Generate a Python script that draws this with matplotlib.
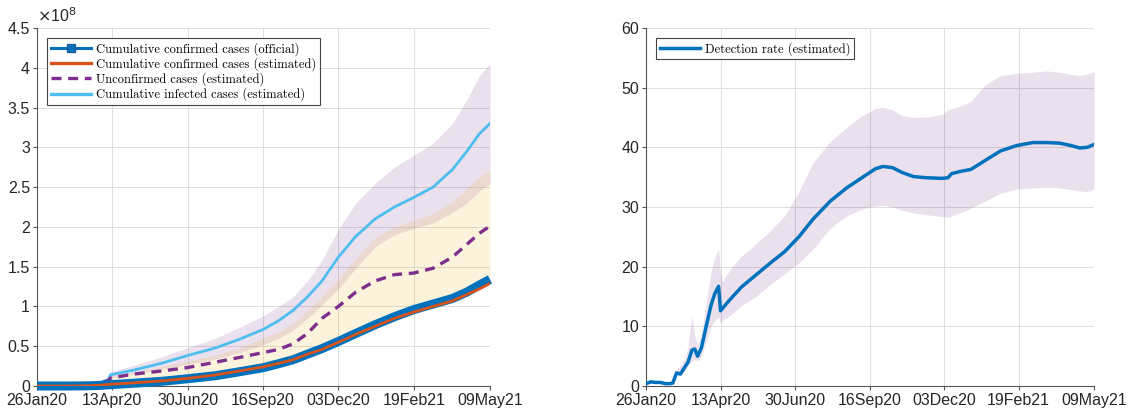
import numpy as np
import matplotlib
matplotlib.use("Agg")
import matplotlib.pyplot as plt
import matplotlib.dates as mdates
from matplotlib.ticker import FuncFormatter, MultipleLocator

# ---------------- data (left panel, values in units of 1e8) ----------------
start = np.datetime64("2020-01-26")
left_days = [0, 30, 50, 65, 74, 76, 100, 130, 155, 185, 210, 234, 250, 265, 280,
             295, 312, 330, 350, 370, 390, 410, 430, 445, 458, 469]
confirmed_official = [0.0, 0.0, 0.002, 0.008, 0.015, 0.017, 0.035, 0.06, 0.09, 0.13,
                      0.18, 0.23, 0.28, 0.33, 0.40, 0.47, 0.56, 0.66, 0.77, 0.87,
                      0.96, 1.03, 1.10, 1.18, 1.27, 1.34]
confirmed_est = [0.0, 0.0, 0.002, 0.01, 0.02, 0.022, 0.04, 0.065, 0.095, 0.14,
                 0.19, 0.24, 0.285, 0.33, 0.40, 0.46, 0.55, 0.65, 0.75, 0.85,
                 0.93, 1.0, 1.07, 1.15, 1.22, 1.29]
unconfirmed_est = [0.0, 0.0, 0.005, 0.03, 0.07, 0.10, 0.15, 0.19, 0.23, 0.30,
                   0.36, 0.42, 0.46, 0.53, 0.66, 0.85, 1.0, 1.18, 1.32, 1.40,
                   1.42, 1.48, 1.62, 1.78, 1.92, 2.01]
unconf_low = [0.0, 0.0, 0.003, 0.012, 0.02, 0.025, 0.045, 0.075, 0.11, 0.16,
              0.21, 0.27, 0.31, 0.37, 0.44, 0.51, 0.60, 0.71, 0.82, 0.92,
              1.0, 1.07, 1.14, 1.22, 1.31, 1.38]
unconf_high = [0.0, 0.0, 0.008, 0.04, 0.09, 0.13, 0.18, 0.25, 0.31, 0.39,
               0.48, 0.60, 0.68, 0.78, 0.95, 1.12, 1.35, 1.60, 1.87, 2.0,
               2.08, 2.16, 2.32, 2.48, 2.63, 2.72]
infected_est = [0.0, 0.0, 0.01, 0.04, 0.08, 0.14, 0.20, 0.29, 0.38, 0.48,
                0.59, 0.71, 0.82, 0.95, 1.12, 1.32, 1.62, 1.88, 2.10, 2.25,
                2.37, 2.50, 2.72, 2.95, 3.17, 3.30]
infected_low = [0.0, 0.0, 0.005, 0.025, 0.06, 0.10, 0.15, 0.21, 0.27, 0.34,
                0.42, 0.52, 0.60, 0.70, 0.85, 1.02, 1.22, 1.48, 1.75, 1.90,
                1.98, 2.05, 2.18, 2.30, 2.45, 2.55]
infected_high = [0.0, 0.0, 0.015, 0.06, 0.12, 0.18, 0.26, 0.37, 0.48, 0.60,
                 0.74, 0.88, 1.0, 1.12, 1.32, 1.58, 1.97, 2.30, 2.55, 2.75,
                 2.90, 3.05, 3.30, 3.60, 3.90, 4.05]

# ---------------- data (right panel, %) ----------------
right_days = [0, 5, 10, 15, 20, 25, 28, 32, 36, 40, 44, 48, 51, 54, 58, 63, 68, 72,
              76, 78, 80, 88, 100, 115, 130, 145, 160, 175, 193, 210, 225, 240, 248,
              258, 268, 280, 294, 310, 316, 320, 330, 340, 355, 371, 388, 405, 420,
              433, 445, 454, 462, 469]
detection = [0.4, 0.7, 0.6, 0.6, 0.4, 0.4, 0.5, 2.2, 2.0, 3.0, 4.0, 6.0, 6.2, 5.0,
             6.4, 10.0, 13.5, 15.5, 16.7, 12.6, 13.0, 14.5, 16.6, 18.6, 20.6, 22.5,
             25.0, 28.0, 31.0, 33.2, 34.8, 36.4, 36.8, 36.6, 35.8, 35.1, 34.9, 34.8,
             34.9, 35.6, 36.0, 36.3, 37.8, 39.4, 40.3, 40.8, 40.8, 40.7, 40.3, 39.9,
             40.0, 40.5]
detection_high = [0.4, 0.7, 0.6, 0.6, 0.4, 0.4, 0.5, 2.8, 3.5, 4.5, 6.5, 12.0, 8.5,
                  7.0, 8.5, 14.0, 19.0, 21.5, 23.0, 19.0, 17.5, 19.5, 21.8, 23.8,
                  26.0, 28.5, 32.5, 37.5, 41.0, 43.3, 45.2, 46.5, 46.7, 46.3, 45.3,
                  45.0, 45.1, 45.5, 46.3, 46.5, 47.0, 47.7, 50.5, 52.0, 52.4, 52.6,
                  52.8, 52.6, 52.2, 52.0, 52.3, 52.7]
detection_low = [0.4, 0.7, 0.6, 0.6, 0.4, 0.4, 0.5, 1.8, 1.8, 2.5, 3.5, 4.2, 4.5,
                 4.2, 5.0, 7.5, 10.0, 11.0, 11.5, 10.5, 11.0, 11.8, 13.5, 15.0, 17.0,
                 18.8, 20.6, 23.0, 26.5, 28.5, 29.6, 30.2, 30.3, 30.0, 29.5, 29.0,
                 28.7, 28.4, 28.3, 28.5, 29.1, 29.8, 31.0, 32.3, 33.0, 33.2, 33.3,
                 33.2, 32.9, 32.7, 32.6, 33.0]

tick_dates = ["2020-01-26", "2020-04-13", "2020-06-30", "2020-09-16",
              "2020-12-03", "2021-02-19", "2021-05-09"]
legend_left = ["Cumulative confirmed cases (official)",
               "Cumulative confirmed cases (estimated)",
               "Unconfirmed cases (estimated)",
               "Cumulative infected cases (estimated)"]
legend_right = ["Detection rate (estimated)"]

# ---------------- styling ----------------
BLUE = "#0072BD"
ORANGE = "#D95319"
PURPLE = "#7E2F8E"
CYAN = "#4DBEEE"
YELLOW = "#EDB120"
AX_COL = "#262626"

plt.rcParams["font.family"] = ["Liberation Sans", "DejaVu Sans"]

fig = plt.figure(figsize=(11.28, 4.09), dpi=100)
axL = fig.add_axes([0.0328, 0.0562, 0.4016, 0.8753])
axR = fig.add_axes([0.5727, 0.0562, 0.3972, 0.8753])

xl = start + np.array(left_days).astype("timedelta64[D]")
xr = start + np.array(right_days).astype("timedelta64[D]")
ticks = [np.datetime64(t) for t in tick_dates]


def style_axis(ax):
    ax.set_xlim(np.datetime64("2020-01-26"), np.datetime64("2021-05-09"))
    ax.set_xticks(ticks)
    ax.xaxis.set_major_formatter(mdates.DateFormatter("%d%b%y"))
    ax.grid(True, color="#dddddd", linewidth=0.7)
    ax.set_axisbelow(True)
    for s in ["top", "right"]:
        ax.spines[s].set_visible(False)
    for s in ["left", "bottom"]:
        ax.spines[s].set_color("#555555")
        ax.spines[s].set_linewidth(0.8)
    ax.tick_params(direction="out", length=3, width=0.8, colors="#555555",
                   labelcolor=AX_COL, labelsize=11.5, pad=2)


LEG_FONT = {"family": "cmr10", "size": 9}

# ---- left panel ----
axL.fill_between(xl, infected_low, infected_high, color=PURPLE, alpha=0.15,
                 linewidth=0)
axL.fill_between(xl, unconf_low, unconf_high, color=YELLOW, alpha=0.15,
                 linewidth=0)
axL.plot(xl, infected_est, color=CYAN, lw=2.0, zorder=3)
axL.plot(xl, unconfirmed_est, color=PURPLE, lw=2.4, linestyle=(0, (3, 2)),
         zorder=3)
axL.plot(xl, confirmed_official, color=BLUE, lw=6.5, solid_capstyle="butt",
         zorder=4, clip_on=False)
axL.plot(xl, confirmed_est, color=ORANGE, lw=2.0, zorder=5)

h_off = plt.Line2D([], [], color=BLUE, lw=2.2, marker="s", ms=6,
                   markerfacecolor=BLUE, markeredgecolor="#1f5f99")
h_est = plt.Line2D([], [], color=ORANGE, lw=2.4)
h_unc = plt.Line2D([], [], color=PURPLE, lw=2.4, linestyle=(0, (3, 2)))
h_inf = plt.Line2D([], [], color=CYAN, lw=2.4)

axL.set_ylim(0, 4.5)
axL.yaxis.set_major_locator(MultipleLocator(0.5))
axL.yaxis.set_major_formatter(FuncFormatter(lambda v, p: "%g" % v))
style_axis(axL)
axL.text(0.0, 1.008, r"$\times$10$^8$", transform=axL.transAxes, ha="left",
         va="bottom", fontsize=11.5, color=AX_COL)

legL = axL.legend([h_off, h_est, h_unc, h_inf], legend_left, loc="upper left",
                  bbox_to_anchor=(0.022, 0.972), fancybox=False, framealpha=1,
                  edgecolor="#444444", prop=LEG_FONT,
                  handlelength=3.2, handletextpad=0.4, borderpad=0.3,
                  labelspacing=0.12, borderaxespad=0)
legL.get_frame().set_linewidth(0.8)

# ---- right panel ----
axR.fill_between(xr, detection_low, detection_high, color=PURPLE, alpha=0.15,
                 linewidth=0)
h_det, = axR.plot(xr, detection, color=BLUE, lw=2.5, zorder=3)
axR.set_ylim(0, 60)
axR.yaxis.set_major_locator(MultipleLocator(10))
style_axis(axR)
legR = axR.legend([h_det], legend_right, loc="upper left",
                  bbox_to_anchor=(0.022, 0.972), fancybox=False, framealpha=1,
                  edgecolor="#444444", prop=LEG_FONT,
                  handlelength=3.2, handletextpad=0.4, borderpad=0.3,
                  borderaxespad=0)
legR.get_frame().set_linewidth(0.8)

fig.savefig("out.png", dpi=100)
